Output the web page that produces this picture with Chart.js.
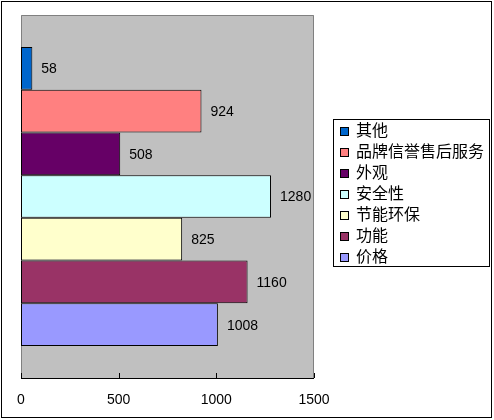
<!DOCTYPE html>
<html>
<head>
<meta charset="utf-8">
<script src="https://cdn.jsdelivr.net/npm/chart.js@4.4.1/dist/chart.umd.min.js"></script>
<style>
  html, body { margin: 0; padding: 0; background: #fff; }
  #wrap { position: relative; width: 494px; height: 420px; overflow: hidden; }
  #c { position: absolute; left: 0; top: 0; }
  #frame { position: absolute; left: 1px; top: 1px; width: 491px; height: 417px; box-sizing: border-box; border: 1px solid #000; pointer-events: none; }
  #legend { position: absolute; left: 333px; top: 119px; width: 157px; height: 148px; box-sizing: border-box; border: 1px solid #000; background: #fff; font-family: "Noto Sans CJK SC", sans-serif; font-size: 16px; color: #000; }
  .item { position: absolute; left: 6px; height: 21px; line-height: 21px; white-space: nowrap; }
  .sw { position: absolute; left: 0; top: 7px; width: 7px; height: 7px; border: 1px solid #000; box-sizing: content-box; }
  .tx { position: absolute; left: 16px; top: -1px; }
</style>
</head>
<body>
<div id="wrap">
  <canvas id="c" width="494" height="420"></canvas>
  <div id="legend"></div>
  <div id="frame"></div>
</div>
<script>
const categories = ['其他', '品牌信誉售后服务', '外观', '安全性', '节能环保', '功能', '价格'];
const values = [58, 924, 508, 1280, 825, 1160, 1008];
const colors = ['#0066CC', '#FF8080', '#660066', '#CCFFFF', '#FFFFCC', '#993366', '#9999FF'];
const xTicks = [0, 500, 1000, 1500];

const plotBg = {
  id: 'plotBg',
  beforeDraw(chart) {
    const {ctx, chartArea: a} = chart;
    ctx.save();
    ctx.fillStyle = '#C0C0C0';
    ctx.fillRect(a.left, a.top, a.right - a.left, a.bottom - a.top);
    ctx.strokeStyle = '#808080';
    ctx.lineWidth = 1;
    ctx.beginPath();
    ctx.moveTo(a.left + 0.5, a.bottom);
    ctx.lineTo(a.left + 0.5, a.top + 0.5);
    ctx.lineTo(a.right - 0.5, a.top + 0.5);
    ctx.lineTo(a.right - 0.5, a.bottom);
    ctx.stroke();
    ctx.restore();
  },
  afterDatasetsDraw(chart) {
    const {ctx, chartArea: a} = chart;
    const xs = chart.scales.x;
    ctx.save();
    // inside tick marks
    ctx.strokeStyle = '#000';
    ctx.lineWidth = 1;
    ctx.beginPath();
    xTicks.forEach(t => {
      const px = Math.round(xs.getPixelForValue(t)) + 0.5;
      ctx.moveTo(px, a.bottom - 5);
      ctx.lineTo(px, a.bottom);
    });
    ctx.moveTo(a.left, a.bottom + 0.5);
    ctx.lineTo(a.right, a.bottom + 0.5);
    ctx.stroke();
    // value labels
    ctx.fillStyle = '#000';
    ctx.font = '14px "Liberation Sans", sans-serif';
    ctx.textAlign = 'left';
    ctx.textBaseline = 'middle';
    chart.data.datasets.forEach((ds, i) => {
      const el = chart.getDatasetMeta(i).data[0];
      ctx.fillText(String(ds.data[0]), el.x + 9, el.y + 1);
    });
    ctx.restore();
  }
};

const chart = new Chart(document.getElementById('c'), {
  type: 'bar',
  data: {
    labels: [''],
    datasets: categories.map((c, i) => ({
      label: c,
      data: [values[i]],
      backgroundColor: colors[i],
      borderColor: '#000',
      borderWidth: 1,
      borderSkipped: false,
      categoryPercentage: 0.824,
      barPercentage: 1
    }))
  },
  options: {
    responsive: false,
    animation: false,
    devicePixelRatio: 1,
    indexAxis: 'y',
    layout: { padding: { left: 21, right: 180, top: 15, bottom: 0 } },
    scales: {
      x: {
        min: 0, max: 1500,
        afterBuildTicks(scale) { scale.ticks = xTicks.map(v => ({ value: v })); },
        afterFit(scale) { scale.height = 42; },
        ticks: {
          color: '#000',
          font: { family: 'Liberation Sans', size: 14 },
          padding: 14,
          maxRotation: 0,
          callback: (v) => String(v)
        },
        grid: { display: false, drawTicks: false },
        border: { display: false }
      },
      y: { display: false }
    },
    plugins: { legend: { display: false }, tooltip: { enabled: false } }
  },
  plugins: [plotBg]
});

const legend = document.getElementById('legend');
chart.data.datasets.forEach((ds, i) => {
  const it = document.createElement('div');
  it.className = 'item';
  it.style.top = (0 + i * 21) + 'px';
  const sw = document.createElement('span');
  sw.className = 'sw';
  sw.style.background = ds.backgroundColor;
  const tx = document.createElement('span');
  tx.className = 'tx';
  tx.textContent = ds.label;
  it.appendChild(sw);
  it.appendChild(tx);
  legend.appendChild(it);
});
</script>
</body>
</html>
